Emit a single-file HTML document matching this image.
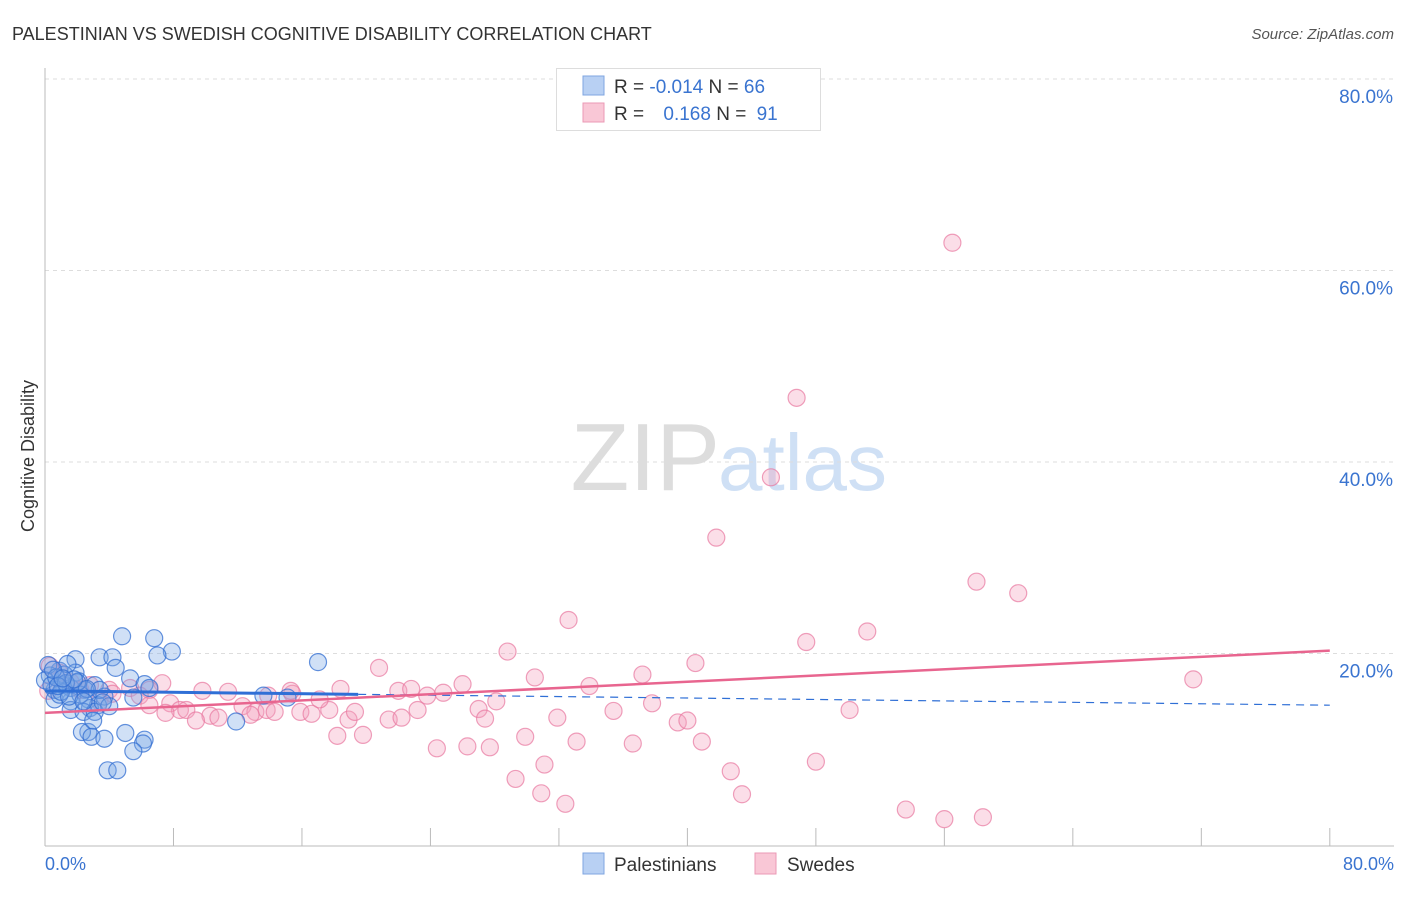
<!DOCTYPE html>
<html><head><meta charset="utf-8">
<style>
body{margin:0;background:#fff;font-family:"Liberation Sans",sans-serif;}
svg text{font-family:"Liberation Sans",sans-serif;}
</style></head>
<body>
<svg id="c" width="1406" height="892" xmlns="http://www.w3.org/2000/svg">
<text x="12" y="40" font-size="18" fill="#333">PALESTINIAN VS SWEDISH COGNITIVE DISABILITY CORRELATION CHART</text>
<text x="1394" y="39" font-size="15" fill="#555" font-style="italic" text-anchor="end">Source: ZipAtlas.com</text>
<text x="720" y="490" font-size="96" fill="#ddd" text-anchor="end" font-family="Liberation Serif">ZIP</text>
<text x="718" y="490" font-size="80" fill="#cfe0f5">atlas</text>
<g id="grid"></g>
<line x1="45" y1="68" x2="45" y2="846" stroke="#bbb"/>
<line x1="45" y1="846" x2="1394" y2="846" stroke="#bbb"/>
<text x="34" y="456" font-size="18" fill="#333" text-anchor="middle" transform="rotate(-90 34 456)">Cognitive Disability</text>
<text x="45" y="870" font-size="18" fill="#3a74d0">0.0%</text>
<text x="1394" y="870" font-size="18" fill="#3a74d0" text-anchor="end">80.0%</text>
<g id="pts"></g>
<g id="lines"></g>
<g>
<rect x="556.5" y="68.5" width="264" height="62" fill="#fff" stroke="#ddd"/>
<rect x="583" y="76" width="21" height="19" fill="#b8d0f3" stroke="#7fa6e0"/>
<rect x="583" y="103" width="21" height="19" fill="#f9c7d6" stroke="#eb9ab5"/>
<text x="614" y="93" font-size="19" fill="#333">R = <tspan fill="#3a74d0">-0.014</tspan>   N = <tspan fill="#3a74d0">66</tspan></text>
<text x="614" y="120" font-size="19" fill="#333">R = <tspan fill="#3a74d0" dx="14">0.168</tspan>   N = <tspan fill="#3a74d0" dx="5">91</tspan></text>
</g>
<g>
<rect x="583" y="853" width="21" height="21" fill="#b8d0f3" stroke="#7fa6e0"/>
<text x="614" y="871" font-size="19" fill="#333">Palestinians</text>
<rect x="755" y="853" width="21" height="21" fill="#f9c7d6" stroke="#eb9ab5"/>
<text x="787" y="871" font-size="19" fill="#333">Swedes</text>
</g>
</svg>
<script>
const yTicks=[20,40,60,80];
const xTicks=[0,8,16,24,32,40,48,56,64,72,80];
const blueX=[4.8,6.8,7.9,7.0,3.4,4.2,1.9,17.0,4.4,0.9,1.9,0.3,5.3,6.2,1.1,3.1,1.6,2.5,0.6,6.5,13.6,15.1,3.7,5.5,2.7,0.6,1.6,3.3,2.8,1.6,2.4,3.1,11.9,2.7,6.2,6.1,2.3,2.9,5.0,3.7,5.5,3.9,4.5,0.2,0,0.9,2.1,1.2,2.2,3.4,0.4,1.4,1.0,2.0,1.5,0.7,2.6,4.0,3.0,1.3,0.8,2.4,1.8,3.6,0.5,1.1];
const blueY=[21.8,21.6,20.2,19.8,19.6,19.6,19.4,19.1,18.5,18.2,18.0,17.7,17.4,16.8,16.7,16.7,16.4,16.2,16.2,16.4,15.6,15.4,15.5,15.4,15.2,15.2,15.0,14.6,14.3,14.1,13.9,13.9,12.9,11.8,11.0,10.6,11.8,11.3,11.7,11.1,9.8,7.8,7.8,18.8,17.2,15.7,17.1,17.8,15.7,16.2,16.7,18.9,16.0,17.0,15.5,17.5,16.3,14.5,13.0,16.9,16.6,15.0,17.3,14.9,18.3,17.4];
const pinkX=[56.5,46.8,45.2,41.8,58.0,60.6,32.6,47.4,51.2,40.5,37.2,28.8,30.5,71.5,20.8,33.9,26.0,22.0,22.8,23.8,24.8,18.4,15.4,11.4,9.8,7.3,6.5,5.3,4.0,2.8,0.9,0.3,0.2,1.6,2.2,3.4,4.2,7.8,8.4,10.3,10.8,12.3,13.1,13.8,14.3,15.9,16.6,17.7,18.9,19.3,18.2,19.8,21.4,22.2,23.2,27.0,27.4,28.1,29.9,31.9,33.1,35.4,36.6,37.8,39.4,40.0,40.9,42.7,43.4,48.0,50.1,24.4,26.3,27.7,29.3,31.1,30.9,32.4,53.6,56.0,58.4,13.9,12.8,5.9,6.5,7.5,8.8,9.4,17.1,15.3];
const pinkY=[62.9,46.7,38.4,32.1,27.5,26.3,23.5,21.2,22.3,19.0,17.8,20.2,17.5,17.3,18.5,16.6,16.8,16.1,16.3,15.6,15.9,16.3,15.8,16.0,16.1,16.9,16.2,16.4,16.2,16.7,18.0,18.7,16.1,17.0,16.2,15.0,15.8,14.8,14.1,13.5,13.3,14.5,13.9,14.1,13.9,13.9,13.7,14.1,13.1,13.9,11.4,11.5,13.1,13.3,14.1,14.2,13.2,15.0,11.3,13.3,10.8,14.0,10.6,14.8,12.8,13.0,10.8,7.7,5.3,8.7,14.1,10.1,10.3,10.2,6.9,8.4,5.4,4.3,3.7,2.7,2.9,15.6,13.6,15.6,14.6,13.8,14.1,13.0,15.2,16.1];
const blueTrend=[16.1,14.6];
const pinkTrend=[13.8,20.3];
const X=v=>45+v*16.06, Y=v=>845-v*9.575;
const NS="http://www.w3.org/2000/svg";
const mk=(t,a,p)=>{const e=document.createElementNS(NS,t);for(const k in a)e.setAttribute(k,a[k]);p.appendChild(e);return e;};
const grid=document.getElementById('grid');
yTicks.forEach(t=>{
 const l=mk('line',{x1:45,x2:1394,y1:Y(t),y2:Y(t),stroke:'#ddd','stroke-dasharray':'4,4'},grid);
 
 
 const tx=mk('text',{x:1393,y:Y(t)+24,'font-size':19,fill:'#3a74d0','text-anchor':'end'},grid);
 tx.textContent=t.toFixed(1)+'%';
 
 
});
xTicks.forEach(t=>{
 const l=mk('line',{x1:X(t),x2:X(t),y1:828,y2:846,stroke:'#bbb'},grid);
 
 
});
const pts=document.getElementById('pts');
pinkX.forEach((v,i)=>{
 const c=mk('circle',{cx:X(v),cy:Y(pinkY[i]),r:8.5,fill:'rgba(244,160,188,0.35)',stroke:'rgba(232,120,160,0.7)','stroke-width':1.2},pts);
 
 
});
blueX.forEach((v,i)=>{
 const c=mk('circle',{cx:X(v),cy:Y(blueY[i]),r:8.5,fill:'rgba(120,165,230,0.35)',stroke:'rgba(50,110,210,0.75)','stroke-width':1.2},pts);
 
 
});
const lines=document.getElementById('lines');
const bAt=x=>blueTrend[0]+(blueTrend[1]-blueTrend[0])*x/80;
let l1=mk('line',{x1:X(0),y1:Y(bAt(0)),x2:X(19.5),y2:Y(bAt(19.5)),stroke:'#2f6fd6','stroke-width':3},lines);


let l2=mk('line',{x1:X(19.5),y1:Y(bAt(19.5)),x2:X(80),y2:Y(bAt(80)),stroke:'#2f6fd6','stroke-width':1.2,'stroke-dasharray':'8,6'},lines);


let l3=mk('line',{x1:X(0),y1:Y(pinkTrend[0]),x2:X(80),y2:Y(pinkTrend[1]),stroke:'#e8658f','stroke-width':2.5},lines);


</script>
</body></html>
